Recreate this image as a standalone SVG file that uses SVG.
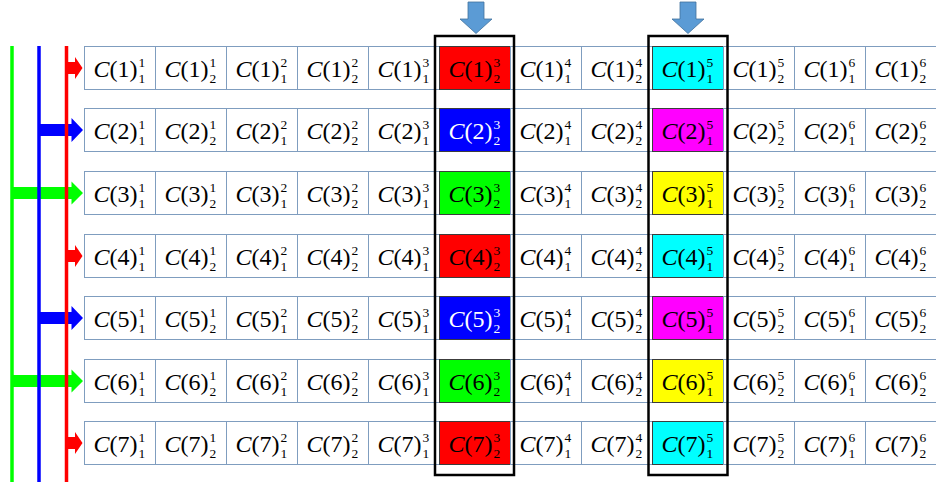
<svg xmlns="http://www.w3.org/2000/svg" xmlns:xlink="http://www.w3.org/1999/xlink" width="936" height="482" viewBox="0 0 936 482">
<style>
.cell{fill:#ffffff;stroke:#7f9dbf;stroke-width:1}
.hl{stroke:#3c3c3c;stroke-width:1}
.r{fill:#ff0000}.b{fill:#0000ff}.g{fill:#00ff00}.cy{fill:#00ffff}.mg{fill:#ff00ff}.y{fill:#ffff00}
.m{font-family:"Liberation Serif","DejaVu Serif",serif;font-size:24px;fill:#000}
.s{font-family:"Liberation Serif","DejaVu Serif",serif;font-size:13.5px;fill:#000}
.w{fill:#ffffff}
.i{font-style:italic}
.frame{fill:none;stroke:#000;stroke-width:2.5}
.down{fill:#5b9bd5;stroke:#41719c;stroke-width:0.8}
</style>
<defs>
<path id="ar" d="M66,-6 H75 V-11 L82.5,0 L75,11 V6 H66 Z" fill="#ff0000"/>
<path id="ab" d="M39,-6 H71.5 V-12 L83,0 L71.5,12 V6 H39 Z" fill="#0000ff"/>
<path id="ag" d="M12,-6 H71.5 V-11.5 L83,0 L71.5,11.5 V6 H12 Z" fill="#00ff00"/>
<path id="ad" d="M-8,2 H8 V19 H16 L0,33.5 L-16,19 H-8 Z" class="down"/>
</defs>

<g id="connectors">
<use xlink:href="#ar" href="#ar" y="68"/>
<use xlink:href="#ab" href="#ab" y="130"/>
<use xlink:href="#ag" href="#ag" y="193"/>
<use xlink:href="#ar" href="#ar" y="256"/>
<use xlink:href="#ab" href="#ab" y="318"/>
<use xlink:href="#ag" href="#ag" y="381"/>
<use xlink:href="#ar" href="#ar" y="443"/>
<line x1="12" y1="46" x2="12" y2="482" stroke="#00ff00" stroke-width="3.5"/>
<line x1="39" y1="46" x2="39" y2="482" stroke="#0000ff" stroke-width="3.5"/>
<line x1="66.5" y1="46" x2="66.5" y2="482" stroke="#ff0000" stroke-width="3.5"/>
<use xlink:href="#ad" href="#ad" x="476"/>
<use xlink:href="#ad" href="#ad" x="688"/>
</g>

<!-- Row 1 -->
<g id="c1-1" transform="translate(84.5,46.5)"><rect class="cell" width="71" height="43"/><text class="m" x="9" y="30"><tspan class="i">C</tspan>(1)</text><text class="s" x="54" y="20">1</text><text class="s" x="54" y="36">1</text></g>
<g id="c1-2" transform="translate(155.5,46.5)"><rect class="cell" width="71" height="43"/><text class="m" x="9" y="30"><tspan class="i">C</tspan>(1)</text><text class="s" x="54" y="20">1</text><text class="s" x="54" y="36">2</text></g>
<g id="c1-3" transform="translate(226.5,46.5)"><rect class="cell" width="71" height="43"/><text class="m" x="9" y="30"><tspan class="i">C</tspan>(1)</text><text class="s" x="54" y="20">2</text><text class="s" x="54" y="36">1</text></g>
<g id="c1-4" transform="translate(297.5,46.5)"><rect class="cell" width="71" height="43"/><text class="m" x="9" y="30"><tspan class="i">C</tspan>(1)</text><text class="s" x="54" y="20">2</text><text class="s" x="54" y="36">2</text></g>
<g id="c1-5" transform="translate(368.5,46.5)"><rect class="cell" width="71" height="43"/><text class="m" x="9" y="30"><tspan class="i">C</tspan>(1)</text><text class="s" x="54" y="20">3</text><text class="s" x="54" y="36">1</text></g>
<g id="c1-6" transform="translate(439.5,46.5)"><rect class="hl r" width="71" height="43"/><text class="m" x="9" y="30"><tspan class="i">C</tspan>(1)</text><text class="s" x="54" y="20">3</text><text class="s" x="54" y="36">2</text></g>
<g id="c1-7" transform="translate(510.5,46.5)"><rect class="cell" width="71" height="43"/><text class="m" x="9" y="30"><tspan class="i">C</tspan>(1)</text><text class="s" x="54" y="20">4</text><text class="s" x="54" y="36">1</text></g>
<g id="c1-8" transform="translate(581.5,46.5)"><rect class="cell" width="71" height="43"/><text class="m" x="9" y="30"><tspan class="i">C</tspan>(1)</text><text class="s" x="54" y="20">4</text><text class="s" x="54" y="36">2</text></g>
<g id="c1-9" transform="translate(652.5,46.5)"><rect class="hl cy" width="71" height="43"/><text class="m" x="9" y="30"><tspan class="i">C</tspan>(1)</text><text class="s" x="54" y="20">5</text><text class="s" x="54" y="36">1</text></g>
<g id="c1-10" transform="translate(723.5,46.5)"><rect class="cell" width="71" height="43"/><text class="m" x="9" y="30"><tspan class="i">C</tspan>(1)</text><text class="s" x="54" y="20">5</text><text class="s" x="54" y="36">2</text></g>
<g id="c1-11" transform="translate(794.5,46.5)"><rect class="cell" width="71" height="43"/><text class="m" x="9" y="30"><tspan class="i">C</tspan>(1)</text><text class="s" x="54" y="20">6</text><text class="s" x="54" y="36">1</text></g>
<g id="c1-12" transform="translate(865.5,46.5)"><rect class="cell" width="71" height="43"/><text class="m" x="9" y="30"><tspan class="i">C</tspan>(1)</text><text class="s" x="54" y="20">6</text><text class="s" x="54" y="36">2</text></g>

<!-- Row 2 -->
<g id="c2-1" transform="translate(84.5,108.5)"><rect class="cell" width="71" height="43"/><text class="m" x="9" y="30"><tspan class="i">C</tspan>(2)</text><text class="s" x="54" y="20">1</text><text class="s" x="54" y="36">1</text></g>
<g id="c2-2" transform="translate(155.5,108.5)"><rect class="cell" width="71" height="43"/><text class="m" x="9" y="30"><tspan class="i">C</tspan>(2)</text><text class="s" x="54" y="20">1</text><text class="s" x="54" y="36">2</text></g>
<g id="c2-3" transform="translate(226.5,108.5)"><rect class="cell" width="71" height="43"/><text class="m" x="9" y="30"><tspan class="i">C</tspan>(2)</text><text class="s" x="54" y="20">2</text><text class="s" x="54" y="36">1</text></g>
<g id="c2-4" transform="translate(297.5,108.5)"><rect class="cell" width="71" height="43"/><text class="m" x="9" y="30"><tspan class="i">C</tspan>(2)</text><text class="s" x="54" y="20">2</text><text class="s" x="54" y="36">2</text></g>
<g id="c2-5" transform="translate(368.5,108.5)"><rect class="cell" width="71" height="43"/><text class="m" x="9" y="30"><tspan class="i">C</tspan>(2)</text><text class="s" x="54" y="20">3</text><text class="s" x="54" y="36">1</text></g>
<g id="c2-6" transform="translate(439.5,108.5)"><rect class="hl b" width="71" height="43"/><text class="m w" x="9" y="30"><tspan class="i">C</tspan>(2)</text><text class="s w" x="54" y="20">3</text><text class="s w" x="54" y="36">2</text></g>
<g id="c2-7" transform="translate(510.5,108.5)"><rect class="cell" width="71" height="43"/><text class="m" x="9" y="30"><tspan class="i">C</tspan>(2)</text><text class="s" x="54" y="20">4</text><text class="s" x="54" y="36">1</text></g>
<g id="c2-8" transform="translate(581.5,108.5)"><rect class="cell" width="71" height="43"/><text class="m" x="9" y="30"><tspan class="i">C</tspan>(2)</text><text class="s" x="54" y="20">4</text><text class="s" x="54" y="36">2</text></g>
<g id="c2-9" transform="translate(652.5,108.5)"><rect class="hl mg" width="71" height="43"/><text class="m" x="9" y="30"><tspan class="i">C</tspan>(2)</text><text class="s" x="54" y="20">5</text><text class="s" x="54" y="36">1</text></g>
<g id="c2-10" transform="translate(723.5,108.5)"><rect class="cell" width="71" height="43"/><text class="m" x="9" y="30"><tspan class="i">C</tspan>(2)</text><text class="s" x="54" y="20">5</text><text class="s" x="54" y="36">2</text></g>
<g id="c2-11" transform="translate(794.5,108.5)"><rect class="cell" width="71" height="43"/><text class="m" x="9" y="30"><tspan class="i">C</tspan>(2)</text><text class="s" x="54" y="20">6</text><text class="s" x="54" y="36">1</text></g>
<g id="c2-12" transform="translate(865.5,108.5)"><rect class="cell" width="71" height="43"/><text class="m" x="9" y="30"><tspan class="i">C</tspan>(2)</text><text class="s" x="54" y="20">6</text><text class="s" x="54" y="36">2</text></g>

<!-- Row 3 -->
<g id="c3-1" transform="translate(84.5,171.5)"><rect class="cell" width="71" height="43"/><text class="m" x="9" y="30"><tspan class="i">C</tspan>(3)</text><text class="s" x="54" y="20">1</text><text class="s" x="54" y="36">1</text></g>
<g id="c3-2" transform="translate(155.5,171.5)"><rect class="cell" width="71" height="43"/><text class="m" x="9" y="30"><tspan class="i">C</tspan>(3)</text><text class="s" x="54" y="20">1</text><text class="s" x="54" y="36">2</text></g>
<g id="c3-3" transform="translate(226.5,171.5)"><rect class="cell" width="71" height="43"/><text class="m" x="9" y="30"><tspan class="i">C</tspan>(3)</text><text class="s" x="54" y="20">2</text><text class="s" x="54" y="36">1</text></g>
<g id="c3-4" transform="translate(297.5,171.5)"><rect class="cell" width="71" height="43"/><text class="m" x="9" y="30"><tspan class="i">C</tspan>(3)</text><text class="s" x="54" y="20">2</text><text class="s" x="54" y="36">2</text></g>
<g id="c3-5" transform="translate(368.5,171.5)"><rect class="cell" width="71" height="43"/><text class="m" x="9" y="30"><tspan class="i">C</tspan>(3)</text><text class="s" x="54" y="20">3</text><text class="s" x="54" y="36">1</text></g>
<g id="c3-6" transform="translate(439.5,171.5)"><rect class="hl g" width="71" height="43"/><text class="m" x="9" y="30"><tspan class="i">C</tspan>(3)</text><text class="s" x="54" y="20">3</text><text class="s" x="54" y="36">2</text></g>
<g id="c3-7" transform="translate(510.5,171.5)"><rect class="cell" width="71" height="43"/><text class="m" x="9" y="30"><tspan class="i">C</tspan>(3)</text><text class="s" x="54" y="20">4</text><text class="s" x="54" y="36">1</text></g>
<g id="c3-8" transform="translate(581.5,171.5)"><rect class="cell" width="71" height="43"/><text class="m" x="9" y="30"><tspan class="i">C</tspan>(3)</text><text class="s" x="54" y="20">4</text><text class="s" x="54" y="36">2</text></g>
<g id="c3-9" transform="translate(652.5,171.5)"><rect class="hl y" width="71" height="43"/><text class="m" x="9" y="30"><tspan class="i">C</tspan>(3)</text><text class="s" x="54" y="20">5</text><text class="s" x="54" y="36">1</text></g>
<g id="c3-10" transform="translate(723.5,171.5)"><rect class="cell" width="71" height="43"/><text class="m" x="9" y="30"><tspan class="i">C</tspan>(3)</text><text class="s" x="54" y="20">5</text><text class="s" x="54" y="36">2</text></g>
<g id="c3-11" transform="translate(794.5,171.5)"><rect class="cell" width="71" height="43"/><text class="m" x="9" y="30"><tspan class="i">C</tspan>(3)</text><text class="s" x="54" y="20">6</text><text class="s" x="54" y="36">1</text></g>
<g id="c3-12" transform="translate(865.5,171.5)"><rect class="cell" width="71" height="43"/><text class="m" x="9" y="30"><tspan class="i">C</tspan>(3)</text><text class="s" x="54" y="20">6</text><text class="s" x="54" y="36">2</text></g>

<!-- Row 4 -->
<g id="c4-1" transform="translate(84.5,234.5)"><rect class="cell" width="71" height="43"/><text class="m" x="9" y="30"><tspan class="i">C</tspan>(4)</text><text class="s" x="54" y="20">1</text><text class="s" x="54" y="36">1</text></g>
<g id="c4-2" transform="translate(155.5,234.5)"><rect class="cell" width="71" height="43"/><text class="m" x="9" y="30"><tspan class="i">C</tspan>(4)</text><text class="s" x="54" y="20">1</text><text class="s" x="54" y="36">2</text></g>
<g id="c4-3" transform="translate(226.5,234.5)"><rect class="cell" width="71" height="43"/><text class="m" x="9" y="30"><tspan class="i">C</tspan>(4)</text><text class="s" x="54" y="20">2</text><text class="s" x="54" y="36">1</text></g>
<g id="c4-4" transform="translate(297.5,234.5)"><rect class="cell" width="71" height="43"/><text class="m" x="9" y="30"><tspan class="i">C</tspan>(4)</text><text class="s" x="54" y="20">2</text><text class="s" x="54" y="36">2</text></g>
<g id="c4-5" transform="translate(368.5,234.5)"><rect class="cell" width="71" height="43"/><text class="m" x="9" y="30"><tspan class="i">C</tspan>(4)</text><text class="s" x="54" y="20">3</text><text class="s" x="54" y="36">1</text></g>
<g id="c4-6" transform="translate(439.5,234.5)"><rect class="hl r" width="71" height="43"/><text class="m" x="9" y="30"><tspan class="i">C</tspan>(4)</text><text class="s" x="54" y="20">3</text><text class="s" x="54" y="36">2</text></g>
<g id="c4-7" transform="translate(510.5,234.5)"><rect class="cell" width="71" height="43"/><text class="m" x="9" y="30"><tspan class="i">C</tspan>(4)</text><text class="s" x="54" y="20">4</text><text class="s" x="54" y="36">1</text></g>
<g id="c4-8" transform="translate(581.5,234.5)"><rect class="cell" width="71" height="43"/><text class="m" x="9" y="30"><tspan class="i">C</tspan>(4)</text><text class="s" x="54" y="20">4</text><text class="s" x="54" y="36">2</text></g>
<g id="c4-9" transform="translate(652.5,234.5)"><rect class="hl cy" width="71" height="43"/><text class="m" x="9" y="30"><tspan class="i">C</tspan>(4)</text><text class="s" x="54" y="20">5</text><text class="s" x="54" y="36">1</text></g>
<g id="c4-10" transform="translate(723.5,234.5)"><rect class="cell" width="71" height="43"/><text class="m" x="9" y="30"><tspan class="i">C</tspan>(4)</text><text class="s" x="54" y="20">5</text><text class="s" x="54" y="36">2</text></g>
<g id="c4-11" transform="translate(794.5,234.5)"><rect class="cell" width="71" height="43"/><text class="m" x="9" y="30"><tspan class="i">C</tspan>(4)</text><text class="s" x="54" y="20">6</text><text class="s" x="54" y="36">1</text></g>
<g id="c4-12" transform="translate(865.5,234.5)"><rect class="cell" width="71" height="43"/><text class="m" x="9" y="30"><tspan class="i">C</tspan>(4)</text><text class="s" x="54" y="20">6</text><text class="s" x="54" y="36">2</text></g>

<!-- Row 5 -->
<g id="c5-1" transform="translate(84.5,296.5)"><rect class="cell" width="71" height="43"/><text class="m" x="9" y="30"><tspan class="i">C</tspan>(5)</text><text class="s" x="54" y="20">1</text><text class="s" x="54" y="36">1</text></g>
<g id="c5-2" transform="translate(155.5,296.5)"><rect class="cell" width="71" height="43"/><text class="m" x="9" y="30"><tspan class="i">C</tspan>(5)</text><text class="s" x="54" y="20">1</text><text class="s" x="54" y="36">2</text></g>
<g id="c5-3" transform="translate(226.5,296.5)"><rect class="cell" width="71" height="43"/><text class="m" x="9" y="30"><tspan class="i">C</tspan>(5)</text><text class="s" x="54" y="20">2</text><text class="s" x="54" y="36">1</text></g>
<g id="c5-4" transform="translate(297.5,296.5)"><rect class="cell" width="71" height="43"/><text class="m" x="9" y="30"><tspan class="i">C</tspan>(5)</text><text class="s" x="54" y="20">2</text><text class="s" x="54" y="36">2</text></g>
<g id="c5-5" transform="translate(368.5,296.5)"><rect class="cell" width="71" height="43"/><text class="m" x="9" y="30"><tspan class="i">C</tspan>(5)</text><text class="s" x="54" y="20">3</text><text class="s" x="54" y="36">1</text></g>
<g id="c5-6" transform="translate(439.5,296.5)"><rect class="hl b" width="71" height="43"/><text class="m w" x="9" y="30"><tspan class="i">C</tspan>(5)</text><text class="s w" x="54" y="20">3</text><text class="s w" x="54" y="36">2</text></g>
<g id="c5-7" transform="translate(510.5,296.5)"><rect class="cell" width="71" height="43"/><text class="m" x="9" y="30"><tspan class="i">C</tspan>(5)</text><text class="s" x="54" y="20">4</text><text class="s" x="54" y="36">1</text></g>
<g id="c5-8" transform="translate(581.5,296.5)"><rect class="cell" width="71" height="43"/><text class="m" x="9" y="30"><tspan class="i">C</tspan>(5)</text><text class="s" x="54" y="20">4</text><text class="s" x="54" y="36">2</text></g>
<g id="c5-9" transform="translate(652.5,296.5)"><rect class="hl mg" width="71" height="43"/><text class="m" x="9" y="30"><tspan class="i">C</tspan>(5)</text><text class="s" x="54" y="20">5</text><text class="s" x="54" y="36">1</text></g>
<g id="c5-10" transform="translate(723.5,296.5)"><rect class="cell" width="71" height="43"/><text class="m" x="9" y="30"><tspan class="i">C</tspan>(5)</text><text class="s" x="54" y="20">5</text><text class="s" x="54" y="36">2</text></g>
<g id="c5-11" transform="translate(794.5,296.5)"><rect class="cell" width="71" height="43"/><text class="m" x="9" y="30"><tspan class="i">C</tspan>(5)</text><text class="s" x="54" y="20">6</text><text class="s" x="54" y="36">1</text></g>
<g id="c5-12" transform="translate(865.5,296.5)"><rect class="cell" width="71" height="43"/><text class="m" x="9" y="30"><tspan class="i">C</tspan>(5)</text><text class="s" x="54" y="20">6</text><text class="s" x="54" y="36">2</text></g>

<!-- Row 6 -->
<g id="c6-1" transform="translate(84.5,359.5)"><rect class="cell" width="71" height="43"/><text class="m" x="9" y="30"><tspan class="i">C</tspan>(6)</text><text class="s" x="54" y="20">1</text><text class="s" x="54" y="36">1</text></g>
<g id="c6-2" transform="translate(155.5,359.5)"><rect class="cell" width="71" height="43"/><text class="m" x="9" y="30"><tspan class="i">C</tspan>(6)</text><text class="s" x="54" y="20">1</text><text class="s" x="54" y="36">2</text></g>
<g id="c6-3" transform="translate(226.5,359.5)"><rect class="cell" width="71" height="43"/><text class="m" x="9" y="30"><tspan class="i">C</tspan>(6)</text><text class="s" x="54" y="20">2</text><text class="s" x="54" y="36">1</text></g>
<g id="c6-4" transform="translate(297.5,359.5)"><rect class="cell" width="71" height="43"/><text class="m" x="9" y="30"><tspan class="i">C</tspan>(6)</text><text class="s" x="54" y="20">2</text><text class="s" x="54" y="36">2</text></g>
<g id="c6-5" transform="translate(368.5,359.5)"><rect class="cell" width="71" height="43"/><text class="m" x="9" y="30"><tspan class="i">C</tspan>(6)</text><text class="s" x="54" y="20">3</text><text class="s" x="54" y="36">1</text></g>
<g id="c6-6" transform="translate(439.5,359.5)"><rect class="hl g" width="71" height="43"/><text class="m" x="9" y="30"><tspan class="i">C</tspan>(6)</text><text class="s" x="54" y="20">3</text><text class="s" x="54" y="36">2</text></g>
<g id="c6-7" transform="translate(510.5,359.5)"><rect class="cell" width="71" height="43"/><text class="m" x="9" y="30"><tspan class="i">C</tspan>(6)</text><text class="s" x="54" y="20">4</text><text class="s" x="54" y="36">1</text></g>
<g id="c6-8" transform="translate(581.5,359.5)"><rect class="cell" width="71" height="43"/><text class="m" x="9" y="30"><tspan class="i">C</tspan>(6)</text><text class="s" x="54" y="20">4</text><text class="s" x="54" y="36">2</text></g>
<g id="c6-9" transform="translate(652.5,359.5)"><rect class="hl y" width="71" height="43"/><text class="m" x="9" y="30"><tspan class="i">C</tspan>(6)</text><text class="s" x="54" y="20">5</text><text class="s" x="54" y="36">1</text></g>
<g id="c6-10" transform="translate(723.5,359.5)"><rect class="cell" width="71" height="43"/><text class="m" x="9" y="30"><tspan class="i">C</tspan>(6)</text><text class="s" x="54" y="20">5</text><text class="s" x="54" y="36">2</text></g>
<g id="c6-11" transform="translate(794.5,359.5)"><rect class="cell" width="71" height="43"/><text class="m" x="9" y="30"><tspan class="i">C</tspan>(6)</text><text class="s" x="54" y="20">6</text><text class="s" x="54" y="36">1</text></g>
<g id="c6-12" transform="translate(865.5,359.5)"><rect class="cell" width="71" height="43"/><text class="m" x="9" y="30"><tspan class="i">C</tspan>(6)</text><text class="s" x="54" y="20">6</text><text class="s" x="54" y="36">2</text></g>

<!-- Row 7 -->
<g id="c7-1" transform="translate(84.5,421.5)"><rect class="cell" width="71" height="43"/><text class="m" x="9" y="30"><tspan class="i">C</tspan>(7)</text><text class="s" x="54" y="20">1</text><text class="s" x="54" y="36">1</text></g>
<g id="c7-2" transform="translate(155.5,421.5)"><rect class="cell" width="71" height="43"/><text class="m" x="9" y="30"><tspan class="i">C</tspan>(7)</text><text class="s" x="54" y="20">1</text><text class="s" x="54" y="36">2</text></g>
<g id="c7-3" transform="translate(226.5,421.5)"><rect class="cell" width="71" height="43"/><text class="m" x="9" y="30"><tspan class="i">C</tspan>(7)</text><text class="s" x="54" y="20">2</text><text class="s" x="54" y="36">1</text></g>
<g id="c7-4" transform="translate(297.5,421.5)"><rect class="cell" width="71" height="43"/><text class="m" x="9" y="30"><tspan class="i">C</tspan>(7)</text><text class="s" x="54" y="20">2</text><text class="s" x="54" y="36">2</text></g>
<g id="c7-5" transform="translate(368.5,421.5)"><rect class="cell" width="71" height="43"/><text class="m" x="9" y="30"><tspan class="i">C</tspan>(7)</text><text class="s" x="54" y="20">3</text><text class="s" x="54" y="36">1</text></g>
<g id="c7-6" transform="translate(439.5,421.5)"><rect class="hl r" width="71" height="43"/><text class="m" x="9" y="30"><tspan class="i">C</tspan>(7)</text><text class="s" x="54" y="20">3</text><text class="s" x="54" y="36">2</text></g>
<g id="c7-7" transform="translate(510.5,421.5)"><rect class="cell" width="71" height="43"/><text class="m" x="9" y="30"><tspan class="i">C</tspan>(7)</text><text class="s" x="54" y="20">4</text><text class="s" x="54" y="36">1</text></g>
<g id="c7-8" transform="translate(581.5,421.5)"><rect class="cell" width="71" height="43"/><text class="m" x="9" y="30"><tspan class="i">C</tspan>(7)</text><text class="s" x="54" y="20">4</text><text class="s" x="54" y="36">2</text></g>
<g id="c7-9" transform="translate(652.5,421.5)"><rect class="hl cy" width="71" height="43"/><text class="m" x="9" y="30"><tspan class="i">C</tspan>(7)</text><text class="s" x="54" y="20">5</text><text class="s" x="54" y="36">1</text></g>
<g id="c7-10" transform="translate(723.5,421.5)"><rect class="cell" width="71" height="43"/><text class="m" x="9" y="30"><tspan class="i">C</tspan>(7)</text><text class="s" x="54" y="20">5</text><text class="s" x="54" y="36">2</text></g>
<g id="c7-11" transform="translate(794.5,421.5)"><rect class="cell" width="71" height="43"/><text class="m" x="9" y="30"><tspan class="i">C</tspan>(7)</text><text class="s" x="54" y="20">6</text><text class="s" x="54" y="36">1</text></g>
<g id="c7-12" transform="translate(865.5,421.5)"><rect class="cell" width="71" height="43"/><text class="m" x="9" y="30"><tspan class="i">C</tspan>(7)</text><text class="s" x="54" y="20">6</text><text class="s" x="54" y="36">2</text></g>

<g id="frame1"><rect class="frame" x="435" y="36" width="79" height="439"/></g>
<g id="frame2"><rect class="frame" x="648.5" y="36" width="79" height="439"/></g>
</svg>
